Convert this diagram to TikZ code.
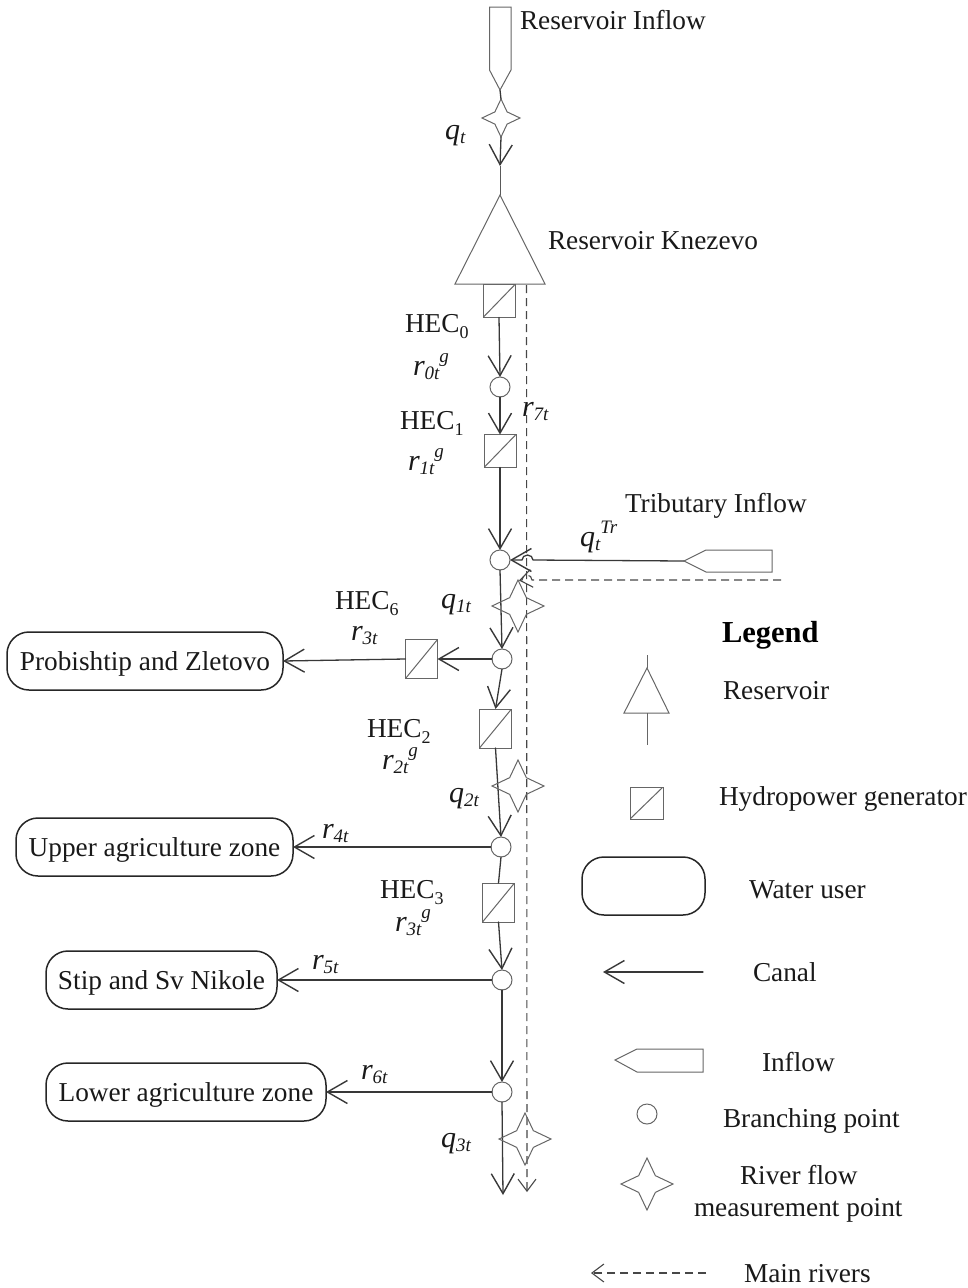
\documentclass[tikz,border=0pt]{standalone}
\usepackage{fontspec}
\setmainfont{Liberation Serif}
\usetikzlibrary{arrows.meta,shapes.geometric}
\newcommand\dn[1]{\raisebox{-0.22em}{\fontsize{18}{18}\selectfont #1}}
\newcommand\lowi[1]{\raisebox{-0.16em}{\fontsize{19}{19}\itshape\selectfont #1}}
\newcommand\hig[1]{\raisebox{0.42em}{\fontsize{19}{19}\itshape\selectfont #1}}
\newcommand\ulab[1]{\rule{0pt}{18pt}\smash{#1}}
\tikzset{
  x=1pt,y=-1pt,
  every node/.style={inner sep=0pt,outer sep=0pt},
  lab/.style={anchor=base west,yshift=-1pt,font=\fontsize{27.3}{31}\selectfont,text=black!90},
  sym/.style={anchor=base west,font=\fontsize{30}{32}\itshape\selectfont,text=black!90},
  ln/.style={draw=black!78,line width=1.3pt,line cap=round,line join=round},
  canal/.style={ln,-{Straight Barb[length=20pt,width=23pt,line width=1.4pt]}},
  plain/.style={ln},
  thinln/.style={draw=black!65,line width=1pt},
  river/.style={draw=black!72,line width=1.1pt,dash pattern=on 8pt off 5pt,-{Straight Barb[length=12pt,width=18pt,line width=1.1pt,sep=0pt]}},
  outl/.style={draw=black!60,line width=1pt,line join=miter},
  junction/.style={outl,fill=white,circle,minimum size=20pt},
  gauge/.style={outl,star,star points=4,star point ratio=2.2,minimum size=#1},
  genbox/.style 2 args={outl,fill=white,rectangle,minimum width=#1,minimum height=#2,
    path picture={\draw[draw=black!60,line width=1pt] (path picture bounding box.south west)--(path picture bounding box.north east);}},
  user/.style 2 args={draw=black!85,line width=1.5pt,rectangle,rounded corners=22pt,minimum width=#1,minimum height=#2,font=\fontsize{27.3}{31}\selectfont,text=black!90},
}
\begin{document}
\begin{tikzpicture}
\useasboundingbox (0,0) rectangle (967,1288);
% named points
\coordinate (topInTip) at (500,90);
\coordinate (apex) at (500,195);
\coordinate (baseL) at (455,284);
\coordinate (baseR) at (545,284);
\coordinate (tribTip) at (684,561);
\coordinate (bumpR) at (533,560);
\coordinate (riverStart) at (526.5,285);
\coordinate (riverEnd) at (527,1192);
\coordinate (riverRight) at (781,580);
\coordinate (rbR) at (532,580);
\coordinate (rTip) at (519,580.5);
\coordinate (outEnd) at (503,1195);
\coordinate (qArrow) at (500,166);

% junctions, gauges, generators
\node[gauge=38pt] (s0) at (501,118) {};
\node[genbox={32pt}{33pt}] (g0) at (499,301) {};
\node[junction] (c0) at (500,387) {};
\node[genbox={32pt}{33pt}] (g1) at (500,451) {};
\node[junction] (c1) at (500,560) {};
\node[junction] (c2) at (502,659) {};
\node[genbox={32pt}{39pt}] (g6) at (421.5,659) {};
\node[genbox={32pt}{39pt}] (g2) at (495.5,728.5) {};
\node[junction] (c3) at (501,847) {};
\node[genbox={32pt}{39pt}] (g3) at (498.5,902.5) {};
\node[junction] (c4) at (502,980) {};
\node[junction] (c5) at (502,1092) {};

% water users
\node[user={276pt}{58pt}] (u1) at (145,661) {\ulab{Probishtip and Zletovo}};
\node[user={277pt}{58pt}] (u2) at (154.5,847) {\ulab{Upper agriculture zone}};
\node[user={231pt}{58pt}] (u3) at (161.5,980) {\ulab{Stip and Sv Nikole}};
\node[user={280pt}{58pt}] (u4) at (186,1092) {\ulab{Lower agriculture zone}};

% main river (dashed)
\draw[river] (riverStart) -- (riverEnd);
\draw[river] (riverRight) -- (rbR) arc[start angle=0,end angle=180,x radius=5pt,y radius=5pt] -- (rTip);

% canals
\draw[plain] (topInTip) -- (s0.north);
\draw[canal] (s0.south) -- (qArrow);
\draw[thinln] (qArrow) -- (apex);
\draw[canal] (g0.south) -- (c0.north);
\draw[canal] (c0.south) -- (g1.north);
\draw[canal] (g1.south) -- (c1.north);
\draw[canal] (tribTip) -- (bumpR) arc[start angle=0,end angle=180,x radius=5.5pt,y radius=5pt] -- (c1.east);
\draw[canal] (c1.south) -- (c2.north);
\draw[canal] (c2.west) -- (g6.east);
\draw[canal] (g6.west) -- (u1.east);
\draw[canal] (c2.south) -- (g2.north);
\draw[canal] (g2.south) -- (c3.north);
\draw[canal] (c3.west) -- (u2.east);
\draw[plain] (c3.south) -- (g3.north);
\draw[canal] (g3.south) -- (c4.north);
\draw[canal] (c4.west) -- (u3.east);
\draw[canal] (c4.south) -- (c5.north);
\draw[canal] (c5.west) -- (u4.east);
\draw[canal] (c5.south) -- (outEnd);

% gauges over the lines, unfilled
\node[gauge=52pt] (s1) at (518,606) {};
\node[gauge=52pt] (s2) at (518,786) {};
\node[gauge=52pt] (s3) at (525,1139) {};

% reservoir and inflows
\draw[outl] (apex) -- (baseR) -- (baseL) -- cycle;
\draw[outl] (topInTip) -- (511,70) -- (511,7) -- (489.5,7) -- (489.5,70) -- cycle;
\draw[outl] (tribTip) -- (706,550) -- (772,550) -- (772,572) -- (706,572) -- cycle;

% labels
\node[lab] (t1) at (520,28) {Reservoir Inflow};
\node[lab] (t2) at (548,248) {Reservoir Knezevo};
\node[lab] (t3) at (625,511) {Tributary Inflow};
\node[sym] (l1) at (445,139) {q\lowi{t}};
\node[lab] (l2) at (405,331) {HEC\dn{0}};
\node[sym] (l3) at (413,375) {r\lowi{0t}\hig{g}};
\node[sym] (l4) at (522,416) {r\lowi{7t}};
\node[lab] (l5) at (400,428) {HEC\dn{1}};
\node[sym] (l6) at (408,470) {r\lowi{1t}\hig{g}};
\node[sym] (l7) at (580,546) {q\lowi{t}\hig{Tr}};
\node[sym] (l8) at (441,608) {q\lowi{1t}};
\node[lab] (l9) at (335,608) {HEC\dn{6}};
\node[sym] (l10) at (351,640) {r\lowi{3t}};
\node[lab] (l11) at (367,736) {HEC\dn{2}};
\node[sym] (l12) at (382,769) {r\lowi{2t}\hig{g}};
\node[sym] (l13) at (449,802) {q\lowi{2t}};
\node[sym] (l14) at (322,838) {r\lowi{4t}};
\node[lab] (l15) at (380,897) {HEC\dn{3}};
\node[sym] (l16) at (395,931) {r\lowi{3t}\hig{g}};
\node[sym] (l17) at (312,969) {r\lowi{5t}};
\node[sym] (l18) at (361,1079) {r\lowi{6t}};
\node[sym] (l19) at (441,1147) {q\lowi{3t}};

% legend
\node[anchor=base west,font=\fontsize{30.5}{34}\bfseries\selectfont] (lg) at (722,642) {Legend};
\coordinate (lgTop) at (647,655);
\coordinate (lgBot) at (647,745);
\coordinate (lgApex) at (647,668);
\coordinate (lgBase) at (647,713);
\draw[outl] (lgApex) -- (669,713) -- (624,713) -- cycle;
\draw[outl] (lgTop) -- (lgApex);
\draw[outl] (lgBase) -- (lgBot);
\node[lab] (k1) at (723,698) {Reservoir};
\node[genbox={33pt}{32pt}] (kg) at (646.5,803) {};
\node[lab] (k2) at (719,804) {Hydropower generator};
\node[user={123pt}{58pt}] (ku) at (643.5,886) {};
\node[lab] (k3) at (749,897) {Water user};
\coordinate (kcA) at (703,972);
\coordinate (kcB) at (603,972);
\draw[canal] (kcA) -- (kcB);
\node[lab] (k4) at (753,980) {Canal};
\draw[outl] (615,1060) -- (637,1049) -- (703,1049) -- (703,1072) -- (637,1072) -- cycle;
\node[lab] (k5) at (762,1070) {Inflow};
\node[junction] (kc) at (647,1114) {};
\node[lab] (k6) at (723,1126) {Branching point};
\node[gauge=52pt] (ks) at (647,1184) {};
\node[lab] (k7) at (740,1183) {River flow};
\node[lab] (k8) at (694,1215) {measurement point};
\coordinate (krA) at (706,1273);
\coordinate (krB) at (591,1273);
\draw[river] (krA) -- (krB);
\node[lab] (k9) at (744,1281) {Main rivers};
\end{tikzpicture}
\end{document}
